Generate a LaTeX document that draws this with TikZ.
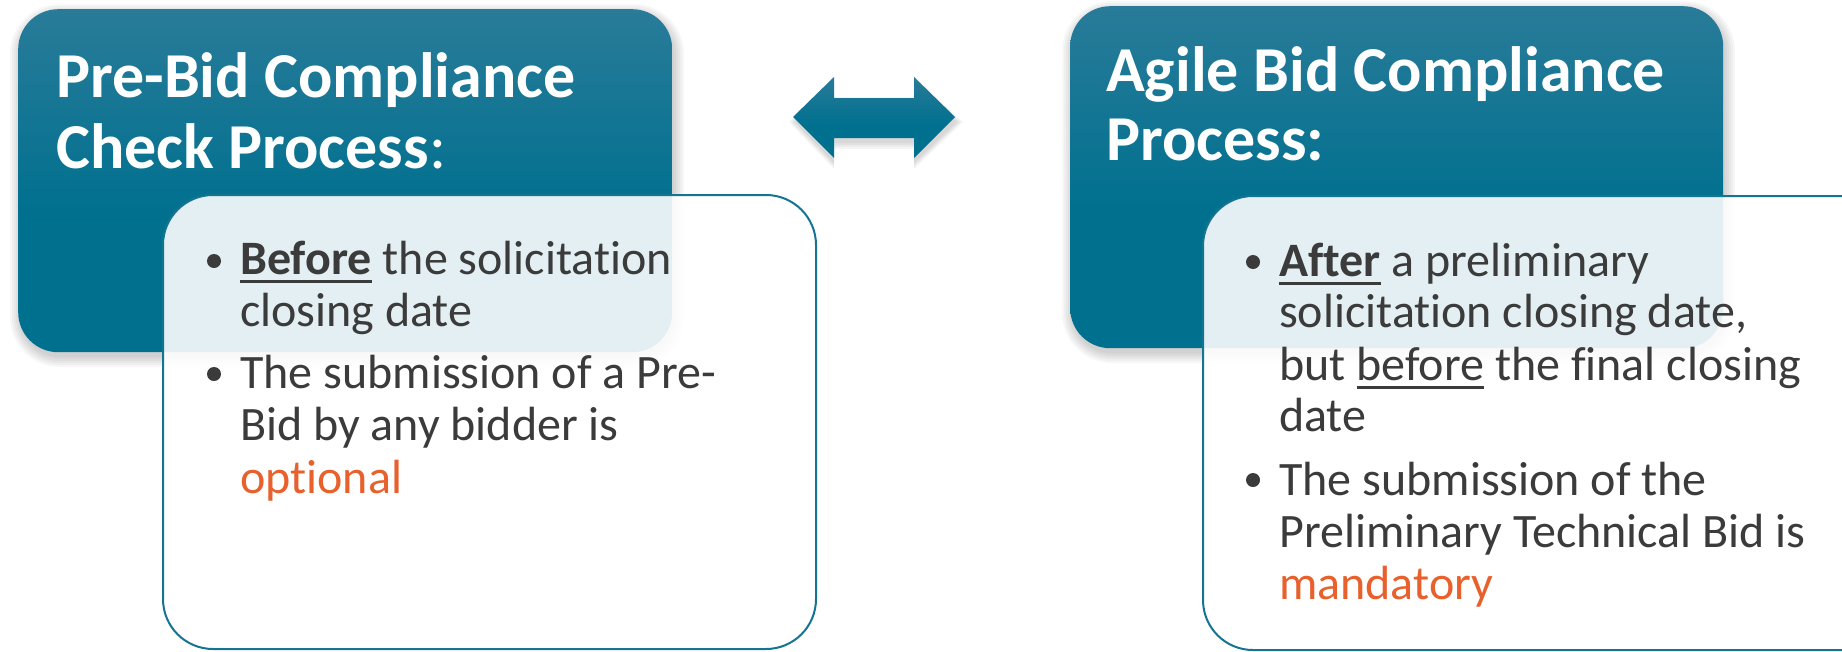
\documentclass[tikz,border=0pt]{standalone}
\usepackage{fontspec}
\setmainfont[Ligatures={NoCommon}]{Carlito}
\definecolor{blight}{HTML}{4A85A1}
\definecolor{bdark}{HTML}{00708F}
\definecolor{txt}{HTML}{3B3B3B}
\definecolor{org}{HTML}{E8602C}
\definecolor{edgec}{HTML}{167493}
\pgfdeclareverticalshading{bluegrad}{100bp}{color(0bp)=(bdark); color(45bp)=(bdark); color(100bp)=(blight)}
\newcommand\myul[1]{\leavevmode\vtop{\hbox{#1}\kern6pt\hrule height 3pt}}
\newcommand\softshadow[5]{%
  \foreach \e in {0,2,...,10}{%
    \fill[black,opacity=0.03,rounded corners=#5+\e] (#1-\e+2,#2-\e+5) rectangle (#3+\e+2,#4+\e+5);}}
\tikzset{
  bluebox/.style={shade, shading=bluegrad, rounded corners=40pt, anchor=north west, inner sep=0, draw=none},
  whitebox/.style={rounded corners=50pt, fill=white, fill opacity=0.89, draw=edgec, line width=2pt, anchor=north west, inner sep=0},
  title/.style={text=white, font=\fontsize{64}{70}\selectfont\bfseries, anchor=base west, inner sep=0},
  body/.style={text=txt, font=\fontsize{48}{52}\selectfont, anchor=base west, inner sep=0},
  bul/.style={circle, fill=txt, minimum size=14pt, inner sep=0},
}
\begin{document}
\begin{tikzpicture}[x=1pt,y=-1pt]
\clip (0,0) rectangle (1842,651);
\fill[white] (0,0) rectangle (1842,651);
% shadows
\softshadow{18}{9}{672}{352}{40}
\softshadow{1070}{6}{1723}{348}{40}
\foreach \e in {0,2,4,6}{%
  \fill[black,opacity=0.04] (793-\e+2,117+5) -- (834,77-\e+5) -- (834,98-\e+5) -- (914,98-\e+5) -- (914,77-\e+5) -- (955+\e+2,117+5) -- (914,158+\e+5) -- (914,138+\e+5) -- (834,138+\e+5) -- (834,158+\e+5) -- cycle;}
% blue boxes
\node[bluebox, minimum width=654pt, minimum height=343pt] (lb) at (18,9) {};
\node[bluebox, minimum width=653pt, minimum height=342pt] (rb) at (1070,6) {};
% arrow
\shade[shading=bluegrad] (793,117) -- (834,77) -- (834,98) -- (914,98) -- (914,77) -- (955,117) -- (914,158) -- (914,138) -- (834,138) -- (834,158) -- cycle;
% white boxes
\node[whitebox, minimum width=653pt, minimum height=454pt] (lw) at (162,194) {};
\node[whitebox, minimum width=700pt, minimum height=454pt] (rw) at (1202,195) {};
% titles
\node[title] (lt1) at (56,97) {Pre-Bid Compliance};
\node[title] (lt2) at (56,168) {Check Process\mdseries:};
\node[title] (rt1) at (1106,91) {Agile Bid Compliance};
\node[title] (rt2) at (1106,160) {Process:};
% left bullets
\node[bul] (lbul1) at (214,261) {};
\node[bul] (lbul2) at (214,374) {};
\node[body] (l1) at (240,274) {\myul{\textbf{Before}} the solicitation};
\node[body] (l2) at (240,326) {closing date};
\node[body] (l3) at (240,388) {The submission of a Pre-};
\node[body] (l4) at (240,440) {Bid by any bidder is};
\node[body, text=org] (l5) at (240,493) {optional};
% right bullets
\node[bul] (rbul1) at (1253,262) {};
\node[bul] (rbul2) at (1253,480) {};
\node[body] (r1) at (1279,276) {\myul{\textbf{After}} a preliminary};
\node[body] (r2) at (1279,327) {solicitation closing date,};
\node[body] (r3) at (1279,380) {but \myul{before} the final closing};
\node[body] (r4) at (1279,431) {date};
\node[body] (r5) at (1279,495) {The submission of the};
\node[body] (r6) at (1279,547) {Preliminary Technical Bid is};
\node[body, text=org] (r7) at (1279,599) {mandatory};
\end{tikzpicture}
\end{document}
